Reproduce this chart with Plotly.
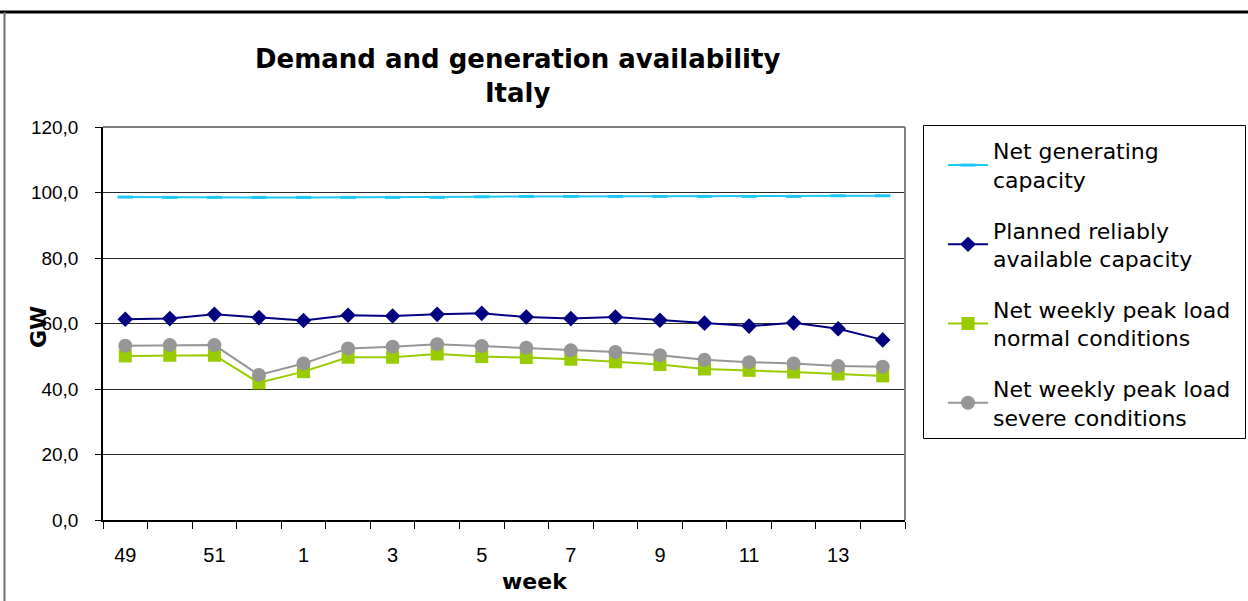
import plotly.graph_objects as go

# Weeks shown on the category axis (winter season)
weeks = ["49", "50", "51", "52", "1", "2", "3", "4", "5", "6",
         "7", "8", "9", "10", "11", "12", "13", "14"]
week_labels = [w if i % 2 == 0 else "" for i, w in enumerate(weeks)]

# Values in GW
net_generating_capacity = [98.6, 98.5, 98.5, 98.5, 98.5, 98.5, 98.5, 98.5, 98.7,
                           98.8, 98.8, 98.8, 98.8, 98.8, 98.8, 98.8, 99.0, 99.0]
planned_reliably_available = [61.3, 61.5, 62.8, 61.8, 60.9, 62.5, 62.3, 62.8, 63.1,
                              62.0, 61.5, 62.0, 61.0, 60.1, 59.2, 60.2, 58.4, 55.0]
peak_load_normal = [50.1, 50.3, 50.3, 41.9, 45.3, 49.7, 49.7, 50.7, 49.9,
                    49.6, 49.1, 48.3, 47.5, 46.1, 45.7, 45.2, 44.6, 44.0]
peak_load_severe = [53.2, 53.4, 53.4, 44.3, 47.8, 52.4, 52.9, 53.7, 53.1,
                    52.6, 51.8, 51.3, 50.3, 48.9, 48.2, 47.8, 47.0, 46.8]

y_ticks = [0, 20, 40, 60, 80, 100, 120]

ARIAL = "Liberation Sans, Arial, sans-serif"
WIDE = "DejaVu Sans, Verdana, sans-serif"

fig = go.Figure()

fig.add_trace(go.Scatter(
    x=weeks, y=net_generating_capacity, mode="lines+markers",
    name="Net generating<br>capacity", legendgroup="a",
    line=dict(color="#1EC8F5", width=2),
    marker=dict(symbol="line-ew-open", size=11, line=dict(color="#14BDF0", width=3)),
))
fig.add_trace(go.Scatter(
    x=weeks, y=planned_reliably_available, mode="lines+markers",
    name="Planned reliably<br>available capacity", legendgroup="b",
    line=dict(color="#000080", width=2),
    marker=dict(symbol="diamond", size=12, color="#000080"),
))
fig.add_trace(go.Scatter(
    x=weeks, y=peak_load_normal, mode="lines+markers",
    name="Net weekly peak load<br>normal conditions", legendgroup="c",
    line=dict(color="#99CC00", width=2),
    marker=dict(symbol="square", size=13, color="#99CC00"),
))
fig.add_trace(go.Scatter(
    x=weeks, y=peak_load_severe, mode="lines+markers",
    name="Net weekly peak load<br>severe conditions", legendgroup="d",
    line=dict(color="#969696", width=2),
    marker=dict(symbol="circle", size=14, color="#969696"),
))

# pixel helpers for paper coordinates (plot area 103..905 x 127..520)
def px(x):
    return (x - 103) / 802.0

def py(y):
    return (520 - y) / 393.0

shapes = [
    # plot area border (top and right)
    dict(type="line", xref="paper", yref="paper", x0=0, x1=1, y0=1, y1=1,
         line=dict(color="#808080", width=2)),
    dict(type="line", xref="paper", yref="paper", x0=1, x1=1, y0=0, y1=1,
         line=dict(color="#808080", width=2)),
    # chart frame
    dict(type="line", xref="paper", yref="paper", x0=px(0), x1=px(1248), y0=py(12), y1=py(12),
         line=dict(color="black", width=3)),
    dict(type="line", xref="paper", yref="paper", x0=px(4.5), x1=px(4.5), y0=py(12), y1=py(601),
         line=dict(color="#707070", width=2)),
    # legend frame
    dict(type="rect", xref="paper", yref="paper", x0=px(923.5), x1=px(1245.5), y0=py(125.5), y1=py(438.5),
         line=dict(color="black", width=1)),
]

annotations = [
    dict(text="<b>Demand and generation availability<br>Italy</b>", xref="paper", yref="paper",
         x=px(517), y=py(76), xanchor="center", yanchor="middle", showarrow=False,
         font=dict(family=WIDE, size=26, color="black")),
    dict(text="<b>week</b>", xref="paper", yref="paper",
         x=px(535), y=py(581), xanchor="center", yanchor="middle", showarrow=False,
         font=dict(family=WIDE, size=22, color="black")),
    dict(text="<b>GW</b>", xref="paper", yref="paper", textangle=-90,
         x=px(38), y=py(327), xanchor="center", yanchor="middle", showarrow=False,
         font=dict(family=WIDE, size=22, color="black")),
]

fig.update_layout(
    width=1248, height=601,
    margin=dict(l=103, r=343, t=127, b=81, pad=0),
    paper_bgcolor="white", plot_bgcolor="white",
    separators=", ",
    showlegend=True,
    legend=dict(
        x=px(943), y=py(130), xanchor="left", yanchor="top",
        font=dict(family=WIDE, size=22, color="black"),
        bgcolor="rgba(0,0,0,0)", borderwidth=0,
        tracegroupgap=19, itemwidth=40,
    ),
    shapes=shapes,
    annotations=annotations,
    xaxis=dict(
        type="category", categoryorder="array", categoryarray=weeks,
        range=[-0.5, len(weeks) - 0.5], autorange=False,
        tickmode="array", tickvals=weeks, ticktext=week_labels,
        tickson="boundaries", ticks="outside", ticklen=7, tickcolor="black", tickwidth=1,
        showline=True, linecolor="black", linewidth=1.5,
        showgrid=False, zeroline=False,
        tickfont=dict(family=ARIAL, size=20, color="black"),
        ticklabelstandoff=16,
    ),
    yaxis=dict(
        range=[0, 120], tickmode="array", tickvals=y_ticks, tickformat=".1f",
        ticks="outside", ticklen=6, tickcolor="black", tickwidth=1,
        showline=True, linecolor="black", linewidth=1.5,
        showgrid=True, gridcolor="#2a2a2a", gridwidth=1,
        zeroline=False,
        tickfont=dict(family=ARIAL, size=19, color="black"),
        ticklabelstandoff=13,
    ),
)

fig.write_html("out.html")
